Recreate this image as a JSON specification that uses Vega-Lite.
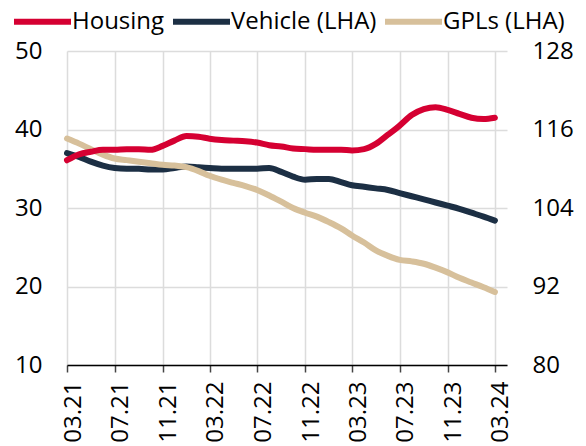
{
  "$schema": "https://vega.github.io/schema/vega-lite/v6.json",
  "width": 440,
  "height": 314,
  "autosize": {"type": "none"},
  "padding": {"left": 67, "top": 51, "right": 79, "bottom": 81},
  "background": "white",
  "config": {
    "font": "Open Sans",
    "view": {"stroke": null},
    "axis": {"labelFont": "Open Sans", "labelFontSize": 24, "labelColor": "#000000", "title": null, "gridColor": "#dcdcdc", "gridWidth": 1.5},
    "legend": {"orient": "none", "legendX": -56, "legendY": -61, "direction": "horizontal", "symbolType": "stroke", "symbolSize": 3249, "symbolStrokeWidth": 6, "labelFont": "Open Sans", "labelFontSize": 24, "labelColor": "#000000", "labelOffset": -2, "columnPadding": -4, "padding": 0, "title": null}
  },
  "data": {
    "format": {"parse": {"date": "date:'%Y-%m'"}},
    "values": [
      {"series": "Vehicle (LHA)", "date": "2021-03", "value": 37.0},
      {"series": "Vehicle (LHA)", "date": "2021-04", "value": 36.5},
      {"series": "Vehicle (LHA)", "date": "2021-05", "value": 35.9},
      {"series": "Vehicle (LHA)", "date": "2021-06", "value": 35.4},
      {"series": "Vehicle (LHA)", "date": "2021-07", "value": 35.1},
      {"series": "Vehicle (LHA)", "date": "2021-08", "value": 35.0},
      {"series": "Vehicle (LHA)", "date": "2021-09", "value": 35.0},
      {"series": "Vehicle (LHA)", "date": "2021-10", "value": 34.9},
      {"series": "Vehicle (LHA)", "date": "2021-11", "value": 34.9},
      {"series": "Vehicle (LHA)", "date": "2021-12", "value": 35.1},
      {"series": "Vehicle (LHA)", "date": "2022-01", "value": 35.3},
      {"series": "Vehicle (LHA)", "date": "2022-02", "value": 35.2},
      {"series": "Vehicle (LHA)", "date": "2022-03", "value": 35.1},
      {"series": "Vehicle (LHA)", "date": "2022-04", "value": 35.0},
      {"series": "Vehicle (LHA)", "date": "2022-05", "value": 35.0},
      {"series": "Vehicle (LHA)", "date": "2022-06", "value": 35.0},
      {"series": "Vehicle (LHA)", "date": "2022-07", "value": 35.0},
      {"series": "Vehicle (LHA)", "date": "2022-08", "value": 35.1},
      {"series": "Vehicle (LHA)", "date": "2022-09", "value": 34.6},
      {"series": "Vehicle (LHA)", "date": "2022-10", "value": 34.0},
      {"series": "Vehicle (LHA)", "date": "2022-11", "value": 33.6},
      {"series": "Vehicle (LHA)", "date": "2022-12", "value": 33.7},
      {"series": "Vehicle (LHA)", "date": "2023-01", "value": 33.7},
      {"series": "Vehicle (LHA)", "date": "2023-02", "value": 33.3},
      {"series": "Vehicle (LHA)", "date": "2023-03", "value": 32.9},
      {"series": "Vehicle (LHA)", "date": "2023-04", "value": 32.7},
      {"series": "Vehicle (LHA)", "date": "2023-05", "value": 32.5},
      {"series": "Vehicle (LHA)", "date": "2023-06", "value": 32.3},
      {"series": "Vehicle (LHA)", "date": "2023-07", "value": 31.9},
      {"series": "Vehicle (LHA)", "date": "2023-08", "value": 31.5},
      {"series": "Vehicle (LHA)", "date": "2023-09", "value": 31.1},
      {"series": "Vehicle (LHA)", "date": "2023-10", "value": 30.7},
      {"series": "Vehicle (LHA)", "date": "2023-11", "value": 30.3},
      {"series": "Vehicle (LHA)", "date": "2023-12", "value": 29.9},
      {"series": "Vehicle (LHA)", "date": "2024-01", "value": 29.4},
      {"series": "Vehicle (LHA)", "date": "2024-02", "value": 28.9},
      {"series": "Vehicle (LHA)", "date": "2024-03", "value": 28.4},
      {"series": "GPLs (LHA)", "date": "2021-03", "value": 38.85},
      {"series": "GPLs (LHA)", "date": "2021-04", "value": 38.2},
      {"series": "GPLs (LHA)", "date": "2021-05", "value": 37.5},
      {"series": "GPLs (LHA)", "date": "2021-06", "value": 36.8},
      {"series": "GPLs (LHA)", "date": "2021-07", "value": 36.3},
      {"series": "GPLs (LHA)", "date": "2021-08", "value": 36.1},
      {"series": "GPLs (LHA)", "date": "2021-09", "value": 35.9},
      {"series": "GPLs (LHA)", "date": "2021-10", "value": 35.7},
      {"series": "GPLs (LHA)", "date": "2021-11", "value": 35.5},
      {"series": "GPLs (LHA)", "date": "2021-12", "value": 35.4},
      {"series": "GPLs (LHA)", "date": "2022-01", "value": 35.2},
      {"series": "GPLs (LHA)", "date": "2022-02", "value": 34.7},
      {"series": "GPLs (LHA)", "date": "2022-03", "value": 34.1},
      {"series": "GPLs (LHA)", "date": "2022-04", "value": 33.6},
      {"series": "GPLs (LHA)", "date": "2022-05", "value": 33.2},
      {"series": "GPLs (LHA)", "date": "2022-06", "value": 32.8},
      {"series": "GPLs (LHA)", "date": "2022-07", "value": 32.3},
      {"series": "GPLs (LHA)", "date": "2022-08", "value": 31.6},
      {"series": "GPLs (LHA)", "date": "2022-09", "value": 30.8},
      {"series": "GPLs (LHA)", "date": "2022-10", "value": 30.0},
      {"series": "GPLs (LHA)", "date": "2022-11", "value": 29.4},
      {"series": "GPLs (LHA)", "date": "2022-12", "value": 28.9},
      {"series": "GPLs (LHA)", "date": "2023-01", "value": 28.2},
      {"series": "GPLs (LHA)", "date": "2023-02", "value": 27.4},
      {"series": "GPLs (LHA)", "date": "2023-03", "value": 26.5},
      {"series": "GPLs (LHA)", "date": "2023-04", "value": 25.6},
      {"series": "GPLs (LHA)", "date": "2023-05", "value": 24.6},
      {"series": "GPLs (LHA)", "date": "2023-06", "value": 23.9},
      {"series": "GPLs (LHA)", "date": "2023-07", "value": 23.4},
      {"series": "GPLs (LHA)", "date": "2023-08", "value": 23.2},
      {"series": "GPLs (LHA)", "date": "2023-09", "value": 22.9},
      {"series": "GPLs (LHA)", "date": "2023-10", "value": 22.4},
      {"series": "GPLs (LHA)", "date": "2023-11", "value": 21.8},
      {"series": "GPLs (LHA)", "date": "2023-12", "value": 21.1},
      {"series": "GPLs (LHA)", "date": "2024-01", "value": 20.5},
      {"series": "GPLs (LHA)", "date": "2024-02", "value": 19.9},
      {"series": "GPLs (LHA)", "date": "2024-03", "value": 19.3},
      {"series": "Housing", "date": "2021-03", "value": 111.3},
      {"series": "Housing", "date": "2021-04", "value": 112.2},
      {"series": "Housing", "date": "2021-05", "value": 112.6},
      {"series": "Housing", "date": "2021-06", "value": 112.9},
      {"series": "Housing", "date": "2021-07", "value": 112.9},
      {"series": "Housing", "date": "2021-08", "value": 113.0},
      {"series": "Housing", "date": "2021-09", "value": 113.0},
      {"series": "Housing", "date": "2021-10", "value": 112.9},
      {"series": "Housing", "date": "2021-11", "value": 113.5},
      {"series": "Housing", "date": "2021-12", "value": 114.3},
      {"series": "Housing", "date": "2022-01", "value": 115.0},
      {"series": "Housing", "date": "2022-02", "value": 114.9},
      {"series": "Housing", "date": "2022-03", "value": 114.6},
      {"series": "Housing", "date": "2022-04", "value": 114.4},
      {"series": "Housing", "date": "2022-05", "value": 114.3},
      {"series": "Housing", "date": "2022-06", "value": 114.2},
      {"series": "Housing", "date": "2022-07", "value": 114.0},
      {"series": "Housing", "date": "2022-08", "value": 113.6},
      {"series": "Housing", "date": "2022-09", "value": 113.4},
      {"series": "Housing", "date": "2022-10", "value": 113.1},
      {"series": "Housing", "date": "2022-11", "value": 113.0},
      {"series": "Housing", "date": "2022-12", "value": 112.9},
      {"series": "Housing", "date": "2023-01", "value": 112.9},
      {"series": "Housing", "date": "2023-02", "value": 112.9},
      {"series": "Housing", "date": "2023-03", "value": 112.8},
      {"series": "Housing", "date": "2023-04", "value": 113.0},
      {"series": "Housing", "date": "2023-05", "value": 113.8},
      {"series": "Housing", "date": "2023-06", "value": 115.2},
      {"series": "Housing", "date": "2023-07", "value": 116.6},
      {"series": "Housing", "date": "2023-08", "value": 118.2},
      {"series": "Housing", "date": "2023-09", "value": 119.1},
      {"series": "Housing", "date": "2023-10", "value": 119.4},
      {"series": "Housing", "date": "2023-11", "value": 119.0},
      {"series": "Housing", "date": "2023-12", "value": 118.4},
      {"series": "Housing", "date": "2024-01", "value": 117.8},
      {"series": "Housing", "date": "2024-02", "value": 117.6},
      {"series": "Housing", "date": "2024-03", "value": 117.8}
    ]
  },
  "encoding": {
    "x": {
      "field": "date",
      "type": "temporal",
      "scale": {"domain": [{"year": 2021, "month": 3, "date": 1}, {"year": 2024, "month": 4, "date": 1}], "nice": false},
      "axis": {
        "values": [
          {"year": 2021, "month": 3, "date": 1}, {"year": 2021, "month": 7, "date": 1}, {"year": 2021, "month": 11, "date": 1},
          {"year": 2022, "month": 3, "date": 1}, {"year": 2022, "month": 7, "date": 1}, {"year": 2022, "month": 11, "date": 1},
          {"year": 2023, "month": 3, "date": 1}, {"year": 2023, "month": 7, "date": 1}, {"year": 2023, "month": 11, "date": 1},
          {"year": 2024, "month": 3, "date": 1}
        ],
        "format": "%m.%y",
        "labelAngle": -90,
        "labelPadding": 9,
        "labelOffset": 6,
        "grid": true,
        "domainColor": "#000000",
        "domainWidth": 1.5,
        "tickColor": "#444444",
        "tickWidth": 1.5,
        "tickSize": 7,
        "labelFlush": false,
        "labelOverlap": false
      }
    }
  },
  "layer": [
    {
      "transform": [{"filter": "datum.series !== 'Housing'"}],
      "mark": {"type": "line", "strokeWidth": 6, "interpolate": "monotone", "strokeCap": "round", "strokeJoin": "round"},
      "encoding": {
        "y": {
          "field": "value",
          "type": "quantitative",
          "scale": {"domain": [10, 50], "nice": false, "zero": false},
          "axis": {"orient": "left", "values": [10, 20, 30, 40, 50], "grid": true, "domain": false, "ticks": false, "labelPadding": 25}
        },
        "color": {
          "field": "series",
          "type": "nominal",
          "scale": {"domain": ["Housing", "Vehicle (LHA)", "GPLs (LHA)"], "range": ["#d50032", "#1c2f44", "#d7c09b"]},
          "legend": {}
        }
      }
    },
    {
      "transform": [{"filter": "datum.series === 'Housing'"}],
      "mark": {"type": "line", "strokeWidth": 6, "interpolate": "monotone", "strokeCap": "round", "strokeJoin": "round"},
      "encoding": {
        "y": {
          "field": "value",
          "type": "quantitative",
          "scale": {"domain": [80, 128], "nice": false, "zero": false},
          "axis": {"orient": "right", "values": [80, 92, 104, 116, 128], "grid": false, "domain": false, "ticks": false, "labelPadding": 25}
        },
        "color": {"field": "series", "type": "nominal"}
      }
    }
  ],
  "resolve": {"scale": {"y": "independent"}}
}
